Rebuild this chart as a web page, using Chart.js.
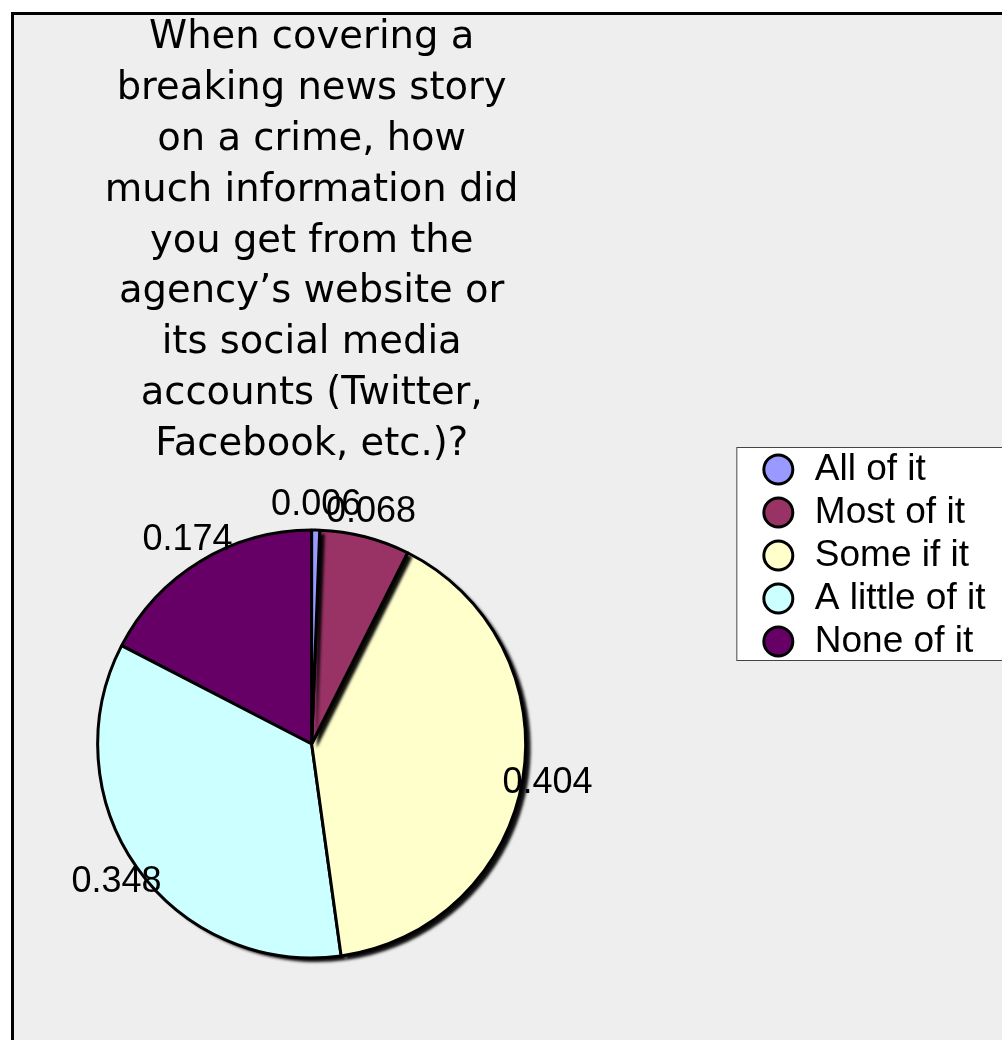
<!DOCTYPE html>
<html>
<head>
<meta charset="utf-8">
<script src="https://cdn.jsdelivr.net/npm/chart.js@4.4.1/dist/chart.umd.min.js"></script>
<style>
    html, body { margin: 0; padding: 0; background: #fff; overflow: hidden; }
    canvas { display: block; }
</style>
</head>
<body>
<canvas id="graficoTorta" width="1002" height="1040"></canvas>
<script>
// ===================================== Data ==================================
var categorias = ['All of it', 'Most of it', 'Some if it', 'A little of it', 'None of it'];
var valores = [0.006, 0.068, 0.404, 0.348, 0.174];
var colores = ['#9999ff', '#993366', '#ffffcc', '#ccffff', '#660066'];
var titulo = [
    'When covering a',
    'breaking news story',
    'on a crime, how',
    'much information did',
    'you get from the',
    'agency\u2019s website or',
    'its social media',
    'accounts (Twitter,',
    'Facebook, etc.)?'
];

// space kept between the pie area and the legend column
var ANCHO_HUECO = 144;


// ============ Grey panel with black frame + white box behind the legend =========
const fondoMarco = {
    id: 'fondoMarco',
    beforeDraw(chart) {
        const ctx = chart.ctx;
        ctx.save();
        ctx.fillStyle = '#ffffff';
        ctx.fillRect(0, 0, chart.width, chart.height);
        ctx.fillStyle = '#eeeeee';
        ctx.fillRect(12, 12, chart.width, chart.height);
        ctx.fillStyle = '#000000';
        ctx.fillRect(11, 12, 3, chart.height);
        ctx.fillRect(11, 12, chart.width, 3);

        const cajas = chart.legend.legendHitBoxes;
        if (cajas && cajas.length) {
            const ultima = cajas[cajas.length - 1];
            const x0 = cajas[0].left - 24;
            const y0 = cajas[0].top - 4;
            const alto = ultima.top + ultima.height - y0;
            ctx.fillStyle = '#ffffff';
            ctx.fillRect(x0, y0, chart.width, alto);
            ctx.strokeStyle = '#444444';
            ctx.lineWidth = 1;
            ctx.strokeRect(x0 + 0.5, y0 + 0.5, chart.width, alto);
        }
        ctx.restore();
    }
};


// ============ Empty layout box between chart area and legend =====================
const huecoLeyenda = {
    id: 'huecoLeyenda',
    beforeInit(chart) {
        Chart.layouts.addBox(chart, {
            position: 'right',
            weight: 0,
            fullSize: false,
            options: {},
            isHorizontal() { return false; },
            update(maxWidth, maxHeight) {
                this.width = ANCHO_HUECO;
                this.height = maxHeight;
            },
            draw() {}
        });
    }
};


// ============ Slices drawn last-to-first, each one over its own shadow ===========
const sombraTorta = {
    id: 'sombraTorta',
    beforeDatasetDraw(chart, args) {
        const ctx = chart.ctx;
        const arcos = args.meta.data;
        for (let i = arcos.length - 1; i >= 0; i--) {
            const p = arcos[i].getProps(['x', 'y', 'startAngle', 'endAngle', 'outerRadius'], true);
            ctx.save();
            ctx.shadowColor = 'rgba(0, 0, 0, 0.95)';
            ctx.shadowBlur = 3;
            ctx.shadowOffsetX = 5;
            ctx.shadowOffsetY = 4;
            ctx.fillStyle = colores[i];
            ctx.beginPath();
            ctx.moveTo(p.x, p.y);
            ctx.arc(p.x, p.y, p.outerRadius, p.startAngle, p.endAngle);
            ctx.closePath();
            ctx.fill();
            ctx.restore();
            arcos[i].draw(ctx);
        }
        return false;
    }
};


// ============ Value labels just outside each slice ===============================
const etiquetasValor = {
    id: 'etiquetasValor',
    afterDatasetsDraw(chart) {
        const ctx = chart.ctx;
        const meta = chart.getDatasetMeta(0);
        ctx.save();
        ctx.font = '36px "Liberation Sans", Arial, sans-serif';
        ctx.fillStyle = '#000000';
        ctx.textAlign = 'center';
        ctx.textBaseline = 'middle';
        meta.data.forEach((arco, i) => {
            const p = arco.getProps(['x', 'y', 'startAngle', 'endAngle', 'outerRadius'], true);
            const ang = (p.startAngle + p.endAngle) / 2;
            const r = p.outerRadius + 25;
            ctx.fillText(valores[i].toFixed(3), p.x + Math.cos(ang) * r, p.y + Math.sin(ang) * r);
        });
        ctx.restore();
    }
};


// ===================================== Pie chart =============================
new Chart(document.getElementById('graficoTorta'), {
    type: 'pie',
    data: {
        labels: categorias,
        datasets: [{
            data: valores,
            backgroundColor: colores,
            borderColor: '#000000',
            borderWidth: 3,
            radius: 214
        }]
    },
    options: {
        responsive: false,
        animation: false,
        events: [],
        layout: {
            padding: { top: 12.5, right: 6.5, bottom: 22.6, left: 13 }
        },
        plugins: {
            title: {
                display: true,
                text: titulo,
                fullSize: false,
                color: '#000000',
                padding: 0,
                font: { family: '"DejaVu Sans", sans-serif', size: 38.5, weight: 'normal', lineHeight: '50.9px' }
            },
            legend: {
                position: 'right',
                align: 'start',
                title: { display: true, text: '', padding: 0, font: { lineHeight: '432.5px' } },
                labels: {
                    usePointStyle: true,
                    pointStyle: 'circle',
                    boxWidth: 36,
                    boxHeight: 20.5,
                    padding: 6,
                    color: '#000000',
                    font: { family: '"Liberation Sans", Arial, sans-serif', size: 37 }
                }
            },
            tooltip: { enabled: false }
        }
    },
    plugins: [fondoMarco, huecoLeyenda, sombraTorta, etiquetasValor]
});
</script>
</body>
</html>
